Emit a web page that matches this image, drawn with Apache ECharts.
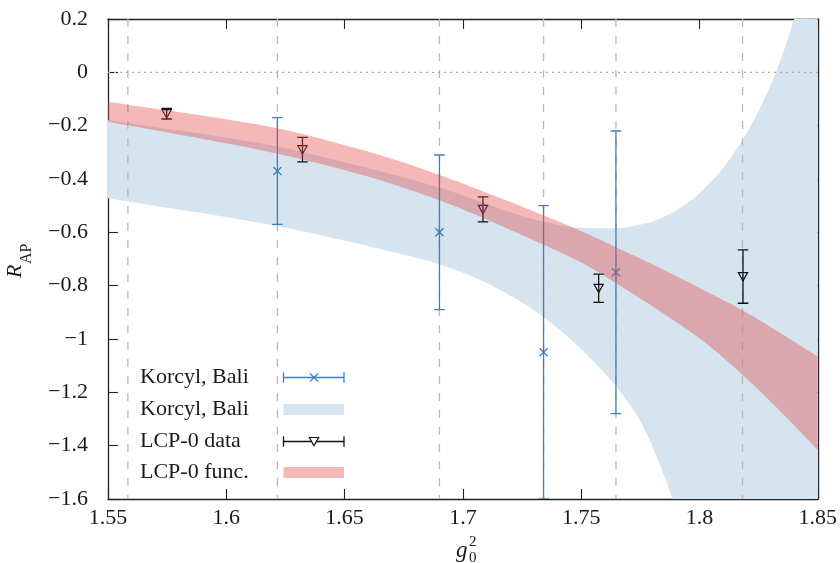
<!DOCTYPE html>
<html><head><meta charset="utf-8">
<script src="https://cdn.jsdelivr.net/npm/echarts@6/dist/echarts.min.js"></script>
<style>html,body{margin:0;padding:0;background:#fff}#c{width:840px;height:563px}</style>
</head><body><div id="c"></div>
<script>
// ---------- data ----------
const xTickLabels = ['1.55','1.6','1.65','1.7','1.75','1.8','1.85'];
const yTickLabels = ['\u22121.6','\u22121.4','\u22121.2','\u22121','\u22120.8','\u22120.6','\u22120.4','\u22120.2','0','0.2'];

const betaLinesX = [1.5584, 1.6216, 1.6901, 1.7341, 1.7647, 1.8182];

const korcylX   = [1.6216, 1.6901, 1.7341, 1.7647];
const korcylY   = [-0.37, -0.60, -1.05, -0.75];
const korcylErr = [0.20, 0.29, 0.55, 0.53];

const lcpX   = [1.5748, 1.6322, 1.7085, 1.7574, 1.8184];
const lcpY   = [-0.155, -0.29, -0.514, -0.81, -0.766];
const lcpErr = [0.02, 0.046, 0.047, 0.053, 0.10];

// Korcyl, Bali band
const blueUpX = [1.55, 1.6216, 1.6479, 1.6648, 1.6901, 1.7341, 1.7494, 1.7633, 1.7775, 1.7916, 1.8056, 1.8184, 1.8282, 1.8323, 1.8400, 1.85];
const blueUpY = [-0.179, -0.278, -0.333, -0.37, -0.432, -0.56, -0.583, -0.585, -0.566, -0.51, -0.404, -0.25, -0.085, 0.0, 0.2, 0.55];
const blueLoX = [1.55, 1.6216, 1.6479, 1.6648, 1.6901, 1.7070, 1.7211, 1.7338, 1.7578, 1.7718, 1.7775, 1.7887, 1.80, 1.85];
const blueLoY = [-0.472, -0.577, -0.627, -0.662, -0.72, -0.777, -0.843, -0.916, -1.108, -1.262, -1.352, -1.6, -1.92, -3.2];

// LCP-0 func band
const redX   = [1.55, 1.6216, 1.6479, 1.6648, 1.6901, 1.7338, 1.7409, 1.7494, 1.7648, 1.7916, 1.8014, 1.8183, 1.8310, 1.85];
const redUpY = [-0.110, -0.21, -0.268, -0.31, -0.385, -0.535, -0.561, -0.593, -0.656, -0.770, -0.815, -0.893, -0.960, -1.066];
const redLoY = [-0.185, -0.305, -0.362, -0.404, -0.48, -0.645, -0.674, -0.71, -0.791, -0.945, -1.007, -1.135, -1.243, -1.416];

// ---------- styles ----------
const FONT = '"Liberation Serif", "Times New Roman", serif';
const TXT = '#1a1a1a';
const BLUE = '#3d7fc4';
const BAND_BLUE = '#d6e4f0';
const BAND_RED = 'rgba(227,73,73,0.39)';
const GRID = { left: 108, top: 19, width: 710, height: 480 };

function clipOf(params) {
  const cs = params.coordSys;
  return { type: 'rect', shape: { x: cs.x, y: cs.y, width: cs.width, height: cs.height } };
}
// monotone cubic (Fritsch-Carlson) rendering of an edge given in pixel space
function smoothEdge(p, steps) {
  const n = p.length; if (n < 3) return p.slice();
  const dx = [], m = [];
  for (let i = 0; i < n - 1; i++) { dx.push(p[i + 1][0] - p[i][0]); m.push((p[i + 1][1] - p[i][1]) / dx[i]); }
  const t = new Array(n);
  t[0] = m[0]; t[n - 1] = m[n - 2];
  for (let i = 1; i < n - 1; i++) {
    if (m[i - 1] * m[i] <= 0) t[i] = 0;
    else {
      const w1 = 2 * dx[i] + dx[i - 1], w2 = dx[i] + 2 * dx[i - 1];
      t[i] = (w1 + w2) / (w1 / m[i - 1] + w2 / m[i]);
    }
  }
  const out = [];
  for (let i = 0; i < n - 1; i++) {
    for (let s = 0; s < steps; s++) {
      const u = s / steps, h = dx[i];
      const h00 = 2 * u * u * u - 3 * u * u + 1, h10 = u * u * u - 2 * u * u + u, h01 = -2 * u * u * u + 3 * u * u, h11 = u * u * u - u * u;
      out.push([p[i][0] + u * h, h00 * p[i][1] + h10 * h * t[i] + h01 * p[i + 1][1] + h11 * h * t[i + 1]]);
    }
  }
  out.push(p[n - 1]);
  return out;
}
function bandRender(upX, upY, loX, loY, fill) {
  return function (params, api) {
    if (params.dataIndex !== 0) return;
    const up = upX.map((x, i) => api.coord([x, upY[i]]));
    const lo = loX.map((x, i) => api.coord([x, loY[i]]));
    const pts = smoothEdge(up, 16).concat(smoothEdge(lo, 16).reverse());
    return { type: 'polygon', shape: { points: pts }, style: { fill: fill }, clipPath: clipOf(params), silent: true };
  };
}
function errRender(color, marker) {
  return function (params, api) {
    const x = api.value(0), y = api.value(1), e = api.value(2);
    const c = api.coord([x, y]), t = api.coord([x, y + e]), b = api.coord([x, y - e]);
    const st = { stroke: color, lineWidth: 1.3, fill: null };
    const cw = 5.3;
    const ch = [
      { type: 'line', shape: { x1: c[0], y1: t[1], x2: c[0], y2: b[1] }, style: st },
      { type: 'line', shape: { x1: c[0] - cw, y1: t[1], x2: c[0] + cw, y2: t[1] }, style: st },
      { type: 'line', shape: { x1: c[0] - cw, y1: b[1], x2: c[0] + cw, y2: b[1] }, style: st }
    ];
    if (marker === 'x') {
      const m = 4;
      ch.push({ type: 'line', shape: { x1: c[0] - m, y1: c[1] - m, x2: c[0] + m, y2: c[1] + m }, style: st });
      ch.push({ type: 'line', shape: { x1: c[0] - m, y1: c[1] + m, x2: c[0] + m, y2: c[1] - m }, style: st });
    } else {
      ch.push({ type: 'polygon', shape: { points: [[c[0] - 4.6, c[1] - 4], [c[0] + 4.6, c[1] - 4], [c[0], c[1] + 4.3]] },
        style: { stroke: color, lineWidth: 1.2, fill: null } });
    }
    return { type: 'group', children: ch, clipPath: clipOf(params), silent: true };
  };
}

const xFmt = v => xTickLabels[Math.round((v - 1.55) / 0.05)] || '';
const yFmt = v => yTickLabels[Math.round((v + 1.6) / 0.2)] || '';
const axLine = { show: true, onZero: false, lineStyle: { color: '#222', width: 1.3 } };
const axTick = { show: true, inside: true, length: 10, lineStyle: { color: '#222', width: 1.1 } };

// legend graphics
const legRows = [377.5, 409.5, 441.5, 472.5];
const legNames = ['Korcyl, Bali', 'Korcyl, Bali', 'LCP-0 data', 'LCP-0 func.'];
const LX0 = 283.5, LX1 = 344, LXM = 314;
function legErr(y, color, marker) {
  const st = { stroke: color, lineWidth: 1.3, fill: null };
  const g = [
    { type: 'line', shape: { x1: LX0, y1: y, x2: LX1, y2: y }, style: st },
    { type: 'line', shape: { x1: LX0, y1: y - 5.2, x2: LX0, y2: y + 5.2 }, style: st },
    { type: 'line', shape: { x1: LX1, y1: y - 5.2, x2: LX1, y2: y + 5.2 }, style: st }
  ];
  if (marker === 'x') {
    g.push({ type: 'line', shape: { x1: LXM - 4, y1: y - 4, x2: LXM + 4, y2: y + 4 }, style: st });
    g.push({ type: 'line', shape: { x1: LXM - 4, y1: y + 4, x2: LXM + 4, y2: y - 4 }, style: st });
  } else {
    g.push({ type: 'polygon', shape: { points: [[LXM - 4.6, y - 4], [LXM + 4.6, y - 4], [LXM, y + 4.3]] }, style: { stroke: color, lineWidth: 1.2, fill: '#fff' } });
  }
  return g;
}
function txt(text, x, y, size, italic, align) {
  return { type: 'text', x: x, y: y, silent: true,
    style: { text: text, fill: TXT, font: (italic ? 'italic ' : '') + size + 'px ' + FONT,
      textAlign: align || 'left', textVerticalAlign: 'middle', align: align || 'left', verticalAlign: 'middle' } };
}
let graphics = [];
legNames.forEach((n, i) => graphics.push(txt(n, 140, legRows[i], 22, false)));
graphics = graphics.concat(legErr(legRows[0], BLUE, 'x'));
graphics.push({ type: 'rect', shape: { x: LX0, y: legRows[1] - 5.5, width: LX1 - LX0, height: 11 }, style: { fill: BAND_BLUE } });
graphics = graphics.concat(legErr(legRows[2], '#111', 'tri'));
graphics.push({ type: 'rect', shape: { x: LX0, y: legRows[3] - 5.5, width: LX1 - LX0, height: 11 }, style: { fill: BAND_RED } });
// x axis name g_0^2
graphics.push(txt('g', 456, 551, 23, true));
graphics.push(txt('2', 469, 542.5, 15, false));
graphics.push(txt('0', 469, 558, 15, false));
// y axis name R_AP (rotated)
graphics.push({ type: 'group', x: 22, y: 259, rotation: Math.PI / 2, silent: true, children: [
  txt('R', -19, -6.4, 22, true),
  txt('AP', -5, 4.9, 16, false)
] });

const chart = echarts.init(document.getElementById('c'), null, { renderer: 'canvas' });
chart.setOption({
  animation: false,
  backgroundColor: '#fff',
  grid: GRID,
  xAxis: [
    { type: 'value', min: 1.55, max: 1.85, interval: 0.05, position: 'bottom',
      axisLine: axLine, axisTick: axTick, splitLine: { show: false },
      axisLabel: { margin: 8, fontFamily: FONT, fontSize: 22, color: TXT, formatter: xFmt } },
    { type: 'value', min: 1.55, max: 1.85, interval: 0.05, position: 'top',
      axisLine: axLine, axisTick: axTick, splitLine: { show: false }, axisLabel: { show: false } }
  ],
  yAxis: [
    { type: 'value', min: -1.6, max: 0.2, interval: 0.2, position: 'left',
      axisLine: axLine, axisTick: axTick, splitLine: { show: false },
      axisLabel: { margin: 20, fontFamily: FONT, fontSize: 22, color: TXT, formatter: yFmt } },
    { type: 'value', min: -1.6, max: 0.2, interval: 0.2, position: 'right',
      axisLine: axLine, axisTick: axTick, splitLine: { show: false }, axisLabel: { show: false } }
  ],
  series: [
    { type: 'custom', name: 'Korcyl, Bali band', z: 1, xAxisIndex: 0, yAxisIndex: 0,
      data: [[blueUpX[0], blueUpY[0]]], renderItem: bandRender(blueUpX, blueUpY, blueLoX, blueLoY, BAND_BLUE) },
    { type: 'custom', name: 'beta lines', z: 2, data: betaLinesX.map(x => [x, 0]),
      renderItem: function (params, api) {
        const cs = params.coordSys; const p = api.coord([api.value(0), 0]);
        return { type: 'line', shape: { x1: p[0], y1: cs.y, x2: p[0], y2: cs.y + cs.height },
          style: { stroke: '#b9b9b9', lineWidth: 1.3, lineDash: [8, 9] }, silent: true };
      } },
    { type: 'custom', name: 'zero', z: 2, data: [[1.55, 0]],
      renderItem: function (params, api) {
        const cs = params.coordSys; const p = api.coord([api.value(0), api.value(1)]);
        return { type: 'line', shape: { x1: cs.x, y1: p[1], x2: cs.x + cs.width, y2: p[1] },
          style: { stroke: '#aaaaaa', lineWidth: 1.2, lineDash: [2, 4] }, silent: true };
      } },
    { type: 'custom', name: 'Korcyl, Bali', z: 3,
      data: korcylX.map((x, i) => [x, korcylY[i], korcylErr[i]]), encode: { x: 0, y: 1 },
      renderItem: errRender(BLUE, 'x') },
    { type: 'custom', name: 'LCP-0 data', z: 4,
      data: lcpX.map((x, i) => [x, lcpY[i], lcpErr[i]]), encode: { x: 0, y: 1 },
      renderItem: errRender('#111', 'tri') },
    { type: 'custom', name: 'LCP-0 func.', z: 5, data: [[redX[0], redUpY[0]]],
      renderItem: bandRender(redX, redUpY, redX, redLoY, BAND_RED) }
  ],
  graphic: graphics
});
</script></body></html>
